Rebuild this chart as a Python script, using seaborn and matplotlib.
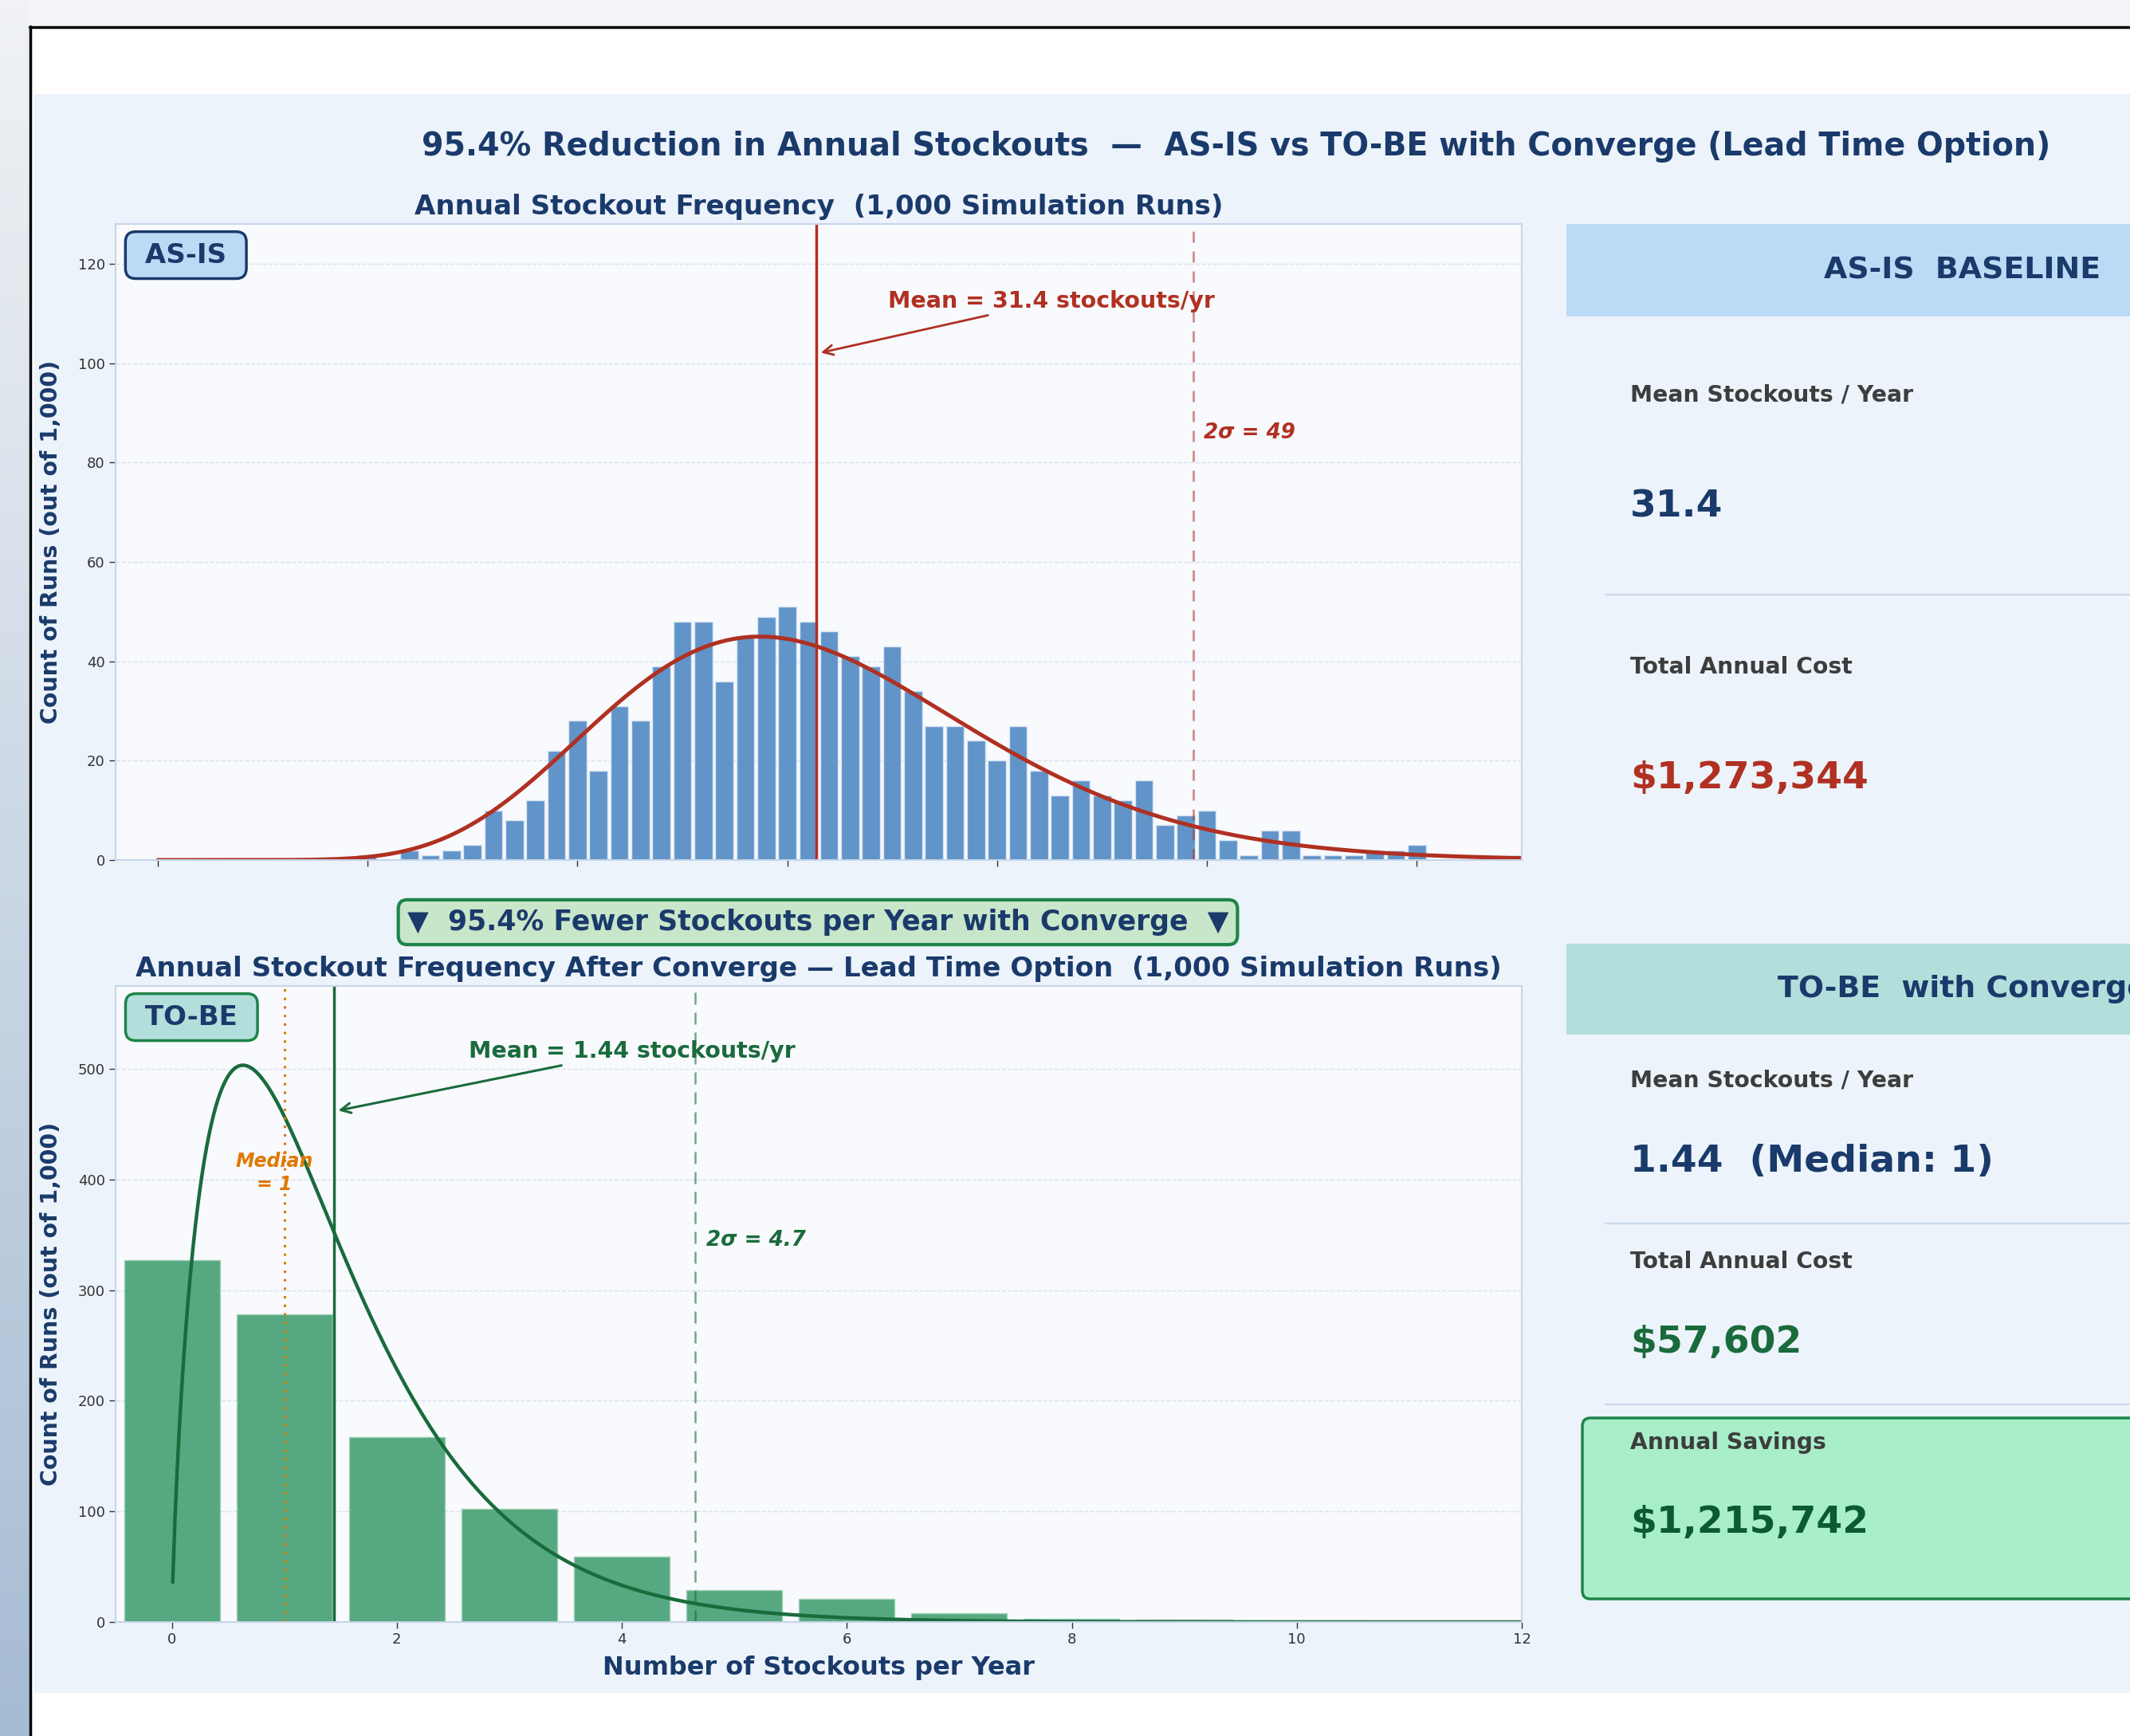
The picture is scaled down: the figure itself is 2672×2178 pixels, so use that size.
import math
import numpy as np
import matplotlib
matplotlib.use("Agg")
import matplotlib.pyplot as plt
import seaborn as sns
from matplotlib.patches import FancyBboxPatch, Rectangle
from matplotlib.colors import LinearSegmentedColormap

# ---- data ----
asis_stockouts = [10, 12, 13, 14, 15, 16, 17, 18, 19, 20, 21, 22, 23, 24, 25, 26, 27, 28, 29,
                  30, 31, 32, 33, 34, 35, 36, 37, 38, 39, 40, 41, 42, 43, 44, 45, 46, 47, 48,
                  49, 50, 51, 52, 53, 54, 55, 56, 57, 58, 59, 60, 65]
asis_runs = [1, 2, 1, 2, 3, 10, 8, 12, 22, 28, 18, 31, 28, 39, 48, 48, 36, 45, 49,
             51, 48, 46, 41, 39, 43, 34, 27, 27, 24, 20, 27, 18, 13, 16, 13, 12, 16, 7,
             9, 10, 4, 1, 6, 6, 1, 1, 1, 2, 2, 3, 1]

tobe_stockouts = [0, 1, 2, 3, 4, 5, 6, 7, 8, 9, 10, 11]
tobe_runs = [327, 278, 167, 102, 59, 29, 21, 8, 3, 2, 1, 1]

n_runs = 1000
asis_mean, asis_2sigma = 31.4, 49.35
tobe_mean, tobe_median, tobe_2sigma = 1.44, 1, 4.65
# gamma fit (shape, scale) used for the smooth overlay
asis_fit = (11.63, 2.70)
tobe_fit = (1.78, 0.81)

asis_cost = "$1,273,344"
tobe_cost = "$57,602"
savings = "$1,215,742"

NAVY = "#1a3a6b"
RED = "#b03022"
GREEN = "#1a6b3c"
EDGE_GREEN = "#1e8449"
ORANGE = "#e07800"
GREY = "#3d3d3d"


def gamma_pdf(x, k, theta):
    return np.exp((k - 1) * np.log(x) - x / theta - math.lgamma(k) - k * math.log(theta))


sns.set_style("white")
plt.rcParams["font.family"] = ["DejaVu Sans"]

W, H = 2672, 2178
fig = plt.figure(figsize=(W / 100, H / 100), dpi=100)
fig.patch.set_facecolor("#f2f4f7")

# background / frame layer in pixel coordinates
bg = fig.add_axes([0, 0, 1, 1], zorder=-10)
grad = LinearSegmentedColormap.from_list("side", ["#f0f2f5", "#a6bcd4"])
bg.imshow(np.linspace(0, 1, 256)[:, None], cmap=grad, extent=(0, 37, H, 0), aspect="auto")
bg.add_patch(Rectangle((38, 34), W, H, fc="white", ec="none"))
bg.add_patch(Rectangle((43, 118), W, 2006, fc="#ecf3fa", ec="none"))
bg.plot([38, 38], [33, H], color="black", lw=2.5)
bg.plot([37, W], [34, 34], color="black", lw=2.5)

# right summary panels
bg.add_patch(Rectangle((1965, 281), 1000, 116, fc="#bbdaf5", ec="none"))
bg.add_patch(Rectangle((1965, 1184), 1000, 114, fc="#b2dfdb", ec="none"))
for yy in (746, 1535, 1762):
    bg.plot([2014, W], [yy, yy], color="#c9d8ea", lw=1.5)
bg.add_patch(FancyBboxPatch((1985, 1779), 800, 227, boxstyle="round,pad=0,rounding_size=10",
                            fc="#a8eec8", ec=EDGE_GREEN, lw=2.5))
bg.text(2462, 339, "AS-IS  BASELINE", ha="center", va="center", fontsize=27.3,
        fontweight="bold", color=NAVY)
bg.text(2462, 1241, "TO-BE  with Converge", ha="center", va="center", fontsize=27.3,
        fontweight="bold", color=NAVY)
panel_txt = [
    (496, "Mean Stockouts / Year", 20.3, GREY),
    (636, f"{asis_mean}", 34, NAVY),
    (837, "Total Annual Cost", 20.3, GREY),
    (976, asis_cost, 34, RED),
    (1355, "Mean Stockouts / Year", 20.3, GREY),
    (1457, f"{tobe_mean}  (Median: {tobe_median})", 34, NAVY),
    (1583, "Total Annual Cost", 20.3, GREY),
    (1684, tobe_cost, 34, GREEN),
    (1810, "Annual Savings", 20.3, GREY),
    (1910, savings, 34, "#0b5a30"),
]
for yy, s, fs, c in panel_txt:
    bg.text(2045, yy, s, ha="left", va="center", fontsize=fs, fontweight="bold", color=c)

bg.set_xlim(0, W)
bg.set_ylim(H, 0)
bg.axis("off")

fig.text(1551 / W, 1 - 184 / H,
         "95.4% Reduction in Annual Stockouts  \u2014  AS-IS vs TO-BE with Converge (Lead Time Option)",
         ha="center", va="center", fontsize=28.5, fontweight="bold", color=NAVY)

ax1 = fig.add_axes([145 / W, 1 - 1079 / H, 1764 / W, 798 / H])
ax2 = fig.add_axes([145 / W, 1 - 2035 / H, 1764 / W, 798 / H])


def style_axes(ax):
    ax.set_facecolor("#f8fafd")
    for sp in ax.spines.values():
        sp.set_color("#c5d5e8")
        sp.set_linewidth(1.5)
    ax.yaxis.grid(True, ls="--", color="#d6e1ee", lw=1)
    ax.xaxis.grid(False)
    ax.set_axisbelow(True)
    ax.tick_params(axis="both", labelsize=13, colors="#333333", length=6, width=1,
                   direction="out", bottom=True, left=True)
    ax.set_ylabel("Count of Runs (out of 1,000)", fontsize=20.4, fontweight="bold",
                  color=NAVY, labelpad=14)


# ---- AS-IS histogram ----
sns.histplot(x=asis_stockouts, weights=asis_runs, discrete=True, shrink=0.86,
             color="#6194c9", alpha=1, edgecolor="#d8e5f3", linewidth=1, ax=ax1)
xs = np.linspace(0.01, 65, 500)
sns.lineplot(x=xs, y=gamma_pdf(xs, *asis_fit) * n_runs, color=RED, lw=3.6, ax=ax1)
ax1.axvline(asis_mean, color=RED, lw=2.5)
ax1.axvline(asis_2sigma, color=RED, lw=2, ls=(0, (5, 4)), alpha=0.55)
ax1.annotate(f"Mean = {asis_mean} stockouts/yr", xy=(asis_mean + 0.1, 102), xytext=(42.6, 112.5),
             ha="center", va="center", fontsize=20.5, fontweight="bold", color=RED,
             arrowprops=dict(arrowstyle="->", color=RED, lw=2, mutation_scale=22))
ax1.text(49.85, 86, "2\u03c3 = 49", fontsize=18.8, fontweight="bold", style="italic", color=RED,
         ha="left", va="center")
ax1.text(0.05, 0.951, " AS-IS ", transform=ax1.transAxes, ha="center", va="center",
         fontsize=24.5, fontweight="bold", color=NAVY,
         bbox=dict(boxstyle="round,pad=0.38", fc="#bbdaf5", ec=NAVY, lw=2.5))
ax1.set_xlim(-2, 65)
ax1.set_ylim(0, 128)
ax1.set_xticks(range(0, 61, 10))
ax1.set_xticklabels([])
ax1.set_yticks(range(0, 121, 20))
ax1.set_xlabel("")
style_axes(ax1)
ax1.set_title("Annual Stockout Frequency  (1,000 Simulation Runs)", fontsize=24.5,
              fontweight="bold", color=NAVY, pad=9)

# ---- TO-BE histogram ----
sns.histplot(x=tobe_stockouts, weights=tobe_runs, discrete=True, shrink=0.85,
             color="#55a87f", alpha=1, edgecolor="#9fcfb4", linewidth=1, ax=ax2)
xs2 = np.linspace(0.008, 12, 600)
sns.lineplot(x=xs2, y=gamma_pdf(xs2, *tobe_fit) * n_runs, color=GREEN, lw=3.2, ax=ax2)
ax2.axvline(tobe_mean, color=GREEN, lw=2.5)
ax2.axvline(tobe_median, color=ORANGE, lw=2.2, ls=(0, (1, 2.5)))
ax2.axvline(tobe_2sigma, color=GREEN, lw=1.8, ls=(0, (6, 4)), alpha=0.6)
ax2.annotate(f"Mean = {tobe_mean} stockouts/yr", xy=(tobe_mean + 0.02, 462), xytext=(4.09, 516),
             ha="center", va="center", fontsize=20.5, fontweight="bold", color=GREEN,
             arrowprops=dict(arrowstyle="->", color=GREEN, lw=2.2, mutation_scale=22))
ax2.text(0.91, 406, f"Median\n= {tobe_median}", fontsize=17, fontweight="bold", style="italic",
         color=ORANGE, ha="center", va="center", linespacing=1.25)
ax2.text(4.75, 345, "2\u03c3 = 4.7", fontsize=18.8, fontweight="bold", style="italic", color=GREEN,
         ha="left", va="center")
ax2.text(0.054, 0.951, " TO-BE ", transform=ax2.transAxes, ha="center", va="center",
         fontsize=24.5, fontweight="bold", color=NAVY,
         bbox=dict(boxstyle="round,pad=0.38", fc="#b2dfdb", ec=EDGE_GREEN, lw=2.5))
ax2.set_xlim(-0.5, 12)
ax2.set_ylim(0, 575)
ax2.set_xticks(range(0, 13, 2))
ax2.set_yticks(range(0, 501, 100))
style_axes(ax2)
ax2.set_xlabel("Number of Stockouts per Year", fontsize=23, fontweight="bold", color=NAVY,
               labelpad=8)
ax2.set_title("Annual Stockout Frequency After Converge \u2014 Lead Time Option  (1,000 Simulation Runs)",
              fontsize=24.5, fontweight="bold", color=NAVY, pad=9)

fig.text(1026 / W, 1 - 1157 / H,
         "\u25bc  95.4% Fewer Stockouts per Year with Converge  \u25bc",
         ha="center", va="center", fontsize=25, fontweight="bold", color=NAVY,
         bbox=dict(boxstyle="round,pad=0.32", fc="#c8e6c9", ec=EDGE_GREEN, lw=3))

fig.savefig("out.png", dpi=100)
